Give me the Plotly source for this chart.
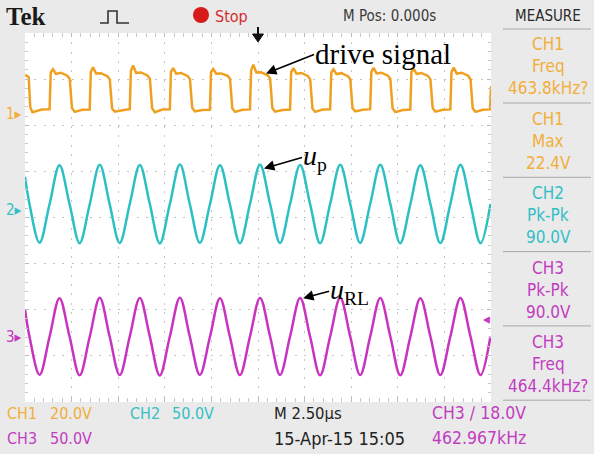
import plotly.graph_objects as go

# ---------------- data read from the screen ----------------
# horizontal: 2.50 us/div, M Pos 0.000 s  -> time in microseconds
# CH1 (drive signal), 20.0 V/div
ch1_time_us = [-12.50, -12.30, -12.22, -12.10, -11.60,
               -11.18, -11.12, -11.00, -10.84, -10.58, -10.23, -10.10, -9.98, -9.83, -9.43,
               -9.03, -8.97, -8.85, -8.69, -8.43, -8.08, -7.95, -7.83, -7.68, -7.28,
               -6.88, -6.82, -6.70, -6.54, -6.28, -5.93, -5.80, -5.68, -5.53, -5.13,
               -4.73, -4.67, -4.55, -4.39, -4.13, -3.78, -3.65, -3.53, -3.38, -2.98,
               -2.58, -2.52, -2.40, -2.24, -1.98, -1.63, -1.50, -1.38, -1.23, -0.83,
               -0.43, -0.37, -0.25, -0.09, 0.17, 0.52, 0.65, 0.77, 0.92, 1.32,
               1.72, 1.78, 1.90, 2.06, 2.32, 2.67, 2.80, 2.92, 3.07, 3.47,
               3.87, 3.93, 4.05, 4.21, 4.47, 4.82, 4.95, 5.07, 5.22, 5.62,
               6.02, 6.08, 6.20, 6.36, 6.62, 6.97, 7.10, 7.22, 7.37, 7.77,
               8.17, 8.23, 8.35, 8.51, 8.77, 9.12, 9.25, 9.37, 9.52, 9.92,
               10.32, 10.38, 10.50, 10.66, 10.92, 11.27, 11.40, 11.52, 11.67, 12.07,
               12.45, 12.50]
ch1_volts = [17.0, 16.0, 3.0, 0.8, 1.9,
             2.0, 18.0, 19.4, 17.4, 17.9, 16.6, 15.2, 2.6, 0.9, 1.8,
             1.9, 18.2, 20.2, 17.6, 17.7, 16.4, 15.0, 2.4, 1.0, 1.6,
             2.1, 18.6, 21.0, 17.8, 18.0, 16.7, 15.3, 2.5, 0.8, 1.9,
             2.0, 18.3, 19.9, 17.5, 17.8, 16.5, 15.1, 2.7, 1.1, 1.7,
             1.8, 18.1, 19.5, 17.5, 17.6, 16.6, 15.2, 2.5, 0.9, 1.8,
             2.0, 18.8, 21.4, 18.0, 18.1, 16.8, 15.4, 2.6, 1.0, 1.7,
             1.9, 18.2, 19.9, 17.5, 17.8, 16.5, 15.0, 2.4, 0.9, 1.9,
             2.0, 18.0, 19.4, 17.3, 17.7, 16.4, 15.1, 2.6, 1.1, 1.8,
             2.1, 18.3, 20.0, 17.6, 17.9, 16.6, 15.2, 2.5, 0.8, 1.7,
             1.9, 18.1, 19.6, 17.4, 17.8, 16.5, 15.0, 2.6, 1.0, 1.8,
             2.0, 18.2, 20.1, 17.5, 17.9, 16.6, 15.1, 2.5, 0.9, 1.8,
             2.0, 12.0]

# CH2 (u_p) and CH3 (u_RL), 50.0 V/div, sampled at peaks / troughs / crossings
sine_time_us = [-12.50, -12.26, -11.72, -11.18, -10.65, -10.11, -9.57, -9.03, -8.49, -7.96,
                -7.42, -6.88, -6.34, -5.81, -5.27, -4.73, -4.19, -3.66, -3.12, -2.58,
                -2.04, -1.51, -0.97, -0.43, 0.11, 0.65, 1.18, 1.72, 2.26, 2.80,
                3.33, 3.87, 4.41, 4.95, 5.48, 6.02, 6.56, 7.10, 7.63, 8.17,
                8.71, 9.25, 9.78, 10.32, 10.86, 11.40, 11.94, 12.47]
ch2_volts = [36.0, 6.5,
             -35.5, 6.5, 48.5, 6.5,
             -36.0, 6.0, 49.0, 6.5,
             -35.8, 6.5, 48.8, 7.0,
             -36.2, 6.5, 49.2, 6.5,
             -35.6, 6.0, 48.6, 6.5,
             -36.0, 6.5, 49.0, 6.5,
             -35.8, 6.5, 48.7, 6.0,
             -36.1, 6.5, 49.1, 6.5,
             -35.7, 6.5, 48.9, 6.5,
             -36.0, 6.0, 48.6, 6.5,
             -35.9, 6.5, 49.0, 6.5,
             -36.0, 6.5]
ch3_volts = [30.0, 0.5,
             -41.0, 0.5, 42.0, 0.5,
             -41.5, 0.0, 42.5, 0.5,
             -41.2, 0.5, 42.3, 1.0,
             -41.6, 0.5, 42.6, 0.5,
             -41.0, 0.0, 42.1, 0.5,
             -41.3, 0.5, 42.4, 0.5,
             -41.1, 0.5, 42.2, 0.0,
             -41.5, 0.5, 42.5, 0.5,
             -41.2, 0.5, 42.3, 0.5,
             -41.4, 0.0, 42.0, 0.5,
             -41.2, 0.5, 42.4, 0.5,
             -41.3, 0.5]

# channel settings: volts/div and ground-marker position (divisions above centre)
ch_volts_per_div = [20.0, 50.0, 50.0]
ch_offset_div = [2.244, 0.163, -2.591]

measure_channel = ["CH1", "CH1", "CH2", "CH3", "CH3"]
measure_kind = ["Freq", "Max", "Pk-Pk", "Pk-Pk", "Freq"]
measure_value = ["463.8kHz?", "22.4V", "90.0V", "90.0V", "464.4kHz?"]

# ---------------- styling ----------------
W, H = 594, 454
L, R, T, B = 25, 491, 33, 402          # graticule box in pixels
ORANGE = "#F0A020"
CYAN = "#2CC0C2"
MAGENTA = "#C833C0"
T_ORANGE = "#F2AE3A"
T_CYAN = "#33BFC6"
T_MAGENTA = "#C23CC2"
TEKFONT = "DejaVu Sans Condensed, Liberation Sans Narrow, Arial Narrow, sans-serif"
SERIF = "Liberation Serif, Times New Roman, serif"
GRID = "#C4C4C4"


def px(x):
    return (x - L) / (R - L)


def py(y):
    return (B - y) / (B - T)


def ch_range(i):
    s, o = ch_volts_per_div[i], ch_offset_div[i]
    return [(-4 - o) * s, (4 - o) * s]


fig = go.Figure()
# base subplot (graticule in divisions)
fig.add_trace(go.Scatter(x=[None], y=[None], xaxis="x", yaxis="y",
                         showlegend=False, hoverinfo="skip"))
fig.add_trace(go.Scatter(x=ch1_time_us, y=ch1_volts, yaxis="y2", mode="lines",
                         line=dict(color=ORANGE, width=2.5), showlegend=False))
fig.add_trace(go.Scatter(x=sine_time_us, y=ch2_volts, yaxis="y3", mode="lines",
                         line=dict(color=CYAN, width=2.5, shape="spline", smoothing=1.0),
                         showlegend=False))
fig.add_trace(go.Scatter(x=sine_time_us, y=ch3_volts, yaxis="y4", mode="lines",
                         line=dict(color=MAGENTA, width=2.5, shape="spline", smoothing=1.0),
                         showlegend=False))

grid_axis = dict(showgrid=True, gridcolor=GRID, griddash="2px,7.3px", gridwidth=1,
                 zeroline=False, showticklabels=False, showline=False,
                 ticks="inside", ticklen=4, tickcolor="#BDBDBD", mirror="allticks",
                 fixedrange=True)

fig.update_layout(
    width=W, height=H, autosize=False,
    margin=dict(l=L, r=W - R, t=T, b=H - B, pad=0),
    paper_bgcolor="#EAEAEA", plot_bgcolor="#FFFFFF",
    xaxis=dict(range=[-12.5, 12.5], tick0=0, dtick=2.5,
               minor=dict(ticks="inside", ticklen=3, dtick=0.5,
                          tickcolor="#C8C8C8", showgrid=False), **grid_axis),
    yaxis=dict(range=[-4, 4], tick0=0, dtick=1,
               minor=dict(ticks="inside", ticklen=3, dtick=0.2,
                          tickcolor="#C8C8C8", showgrid=False), **grid_axis),
    yaxis2=dict(range=ch_range(0), overlaying="y", visible=False, fixedrange=True),
    yaxis3=dict(range=ch_range(1), overlaying="y", visible=False, fixedrange=True),
    yaxis4=dict(range=ch_range(2), overlaying="y", visible=False, fixedrange=True),
    showlegend=False,
)

ann = []
shapes = []


def text(x, y, s, color="#222", size=16, family=TEKFONT, xanchor="left"):
    ann.append(dict(x=px(x), y=py(y), xref="paper", yref="paper", text=s,
                    showarrow=False, xanchor=xanchor, yanchor="middle",
                    font=dict(family=family, size=size, color=color)))


# ---- top bar ----
text(4, 16, "<b>Tek</b>", color="#1A1A1A", size=25, family=SERIF)
shapes.append(dict(type="path", xref="paper", yref="paper",
                   path="M %f,%f L %f,%f L %f,%f L %f,%f L %f,%f L %f,%f" % (
                       px(100), py(23), px(108), py(23), px(108), py(11),
                       px(117), py(11), px(117), py(23), px(129), py(23)),
                   line=dict(color="#333", width=1.6)))
shapes.append(dict(type="circle", xref="paper", yref="paper",
                   x0=px(193), x1=px(209), y0=py(23), y1=py(7),
                   fillcolor="#D71A1A", line=dict(color="#D71A1A", width=0)))
text(213, 16, "Stop", color="#D42A2A", size=16)
text(389, 16, "M Pos: 0.000s", color="#3A3A3A", size=15, xanchor="center")
text(548, 16, "MEASURE", color="#2A2A2A", size=15, xanchor="center")
shapes.append(dict(type="line", xref="paper", yref="paper",
                   x0=px(503), x1=px(591), y0=py(29), y1=py(29),
                   line=dict(color="#A8A8A8", width=1)))

# trigger position marker (down arrow at top of graticule)
shapes.append(dict(type="line", xref="paper", yref="paper",
                   x0=px(258), x1=px(258), y0=py(27), y1=py(35),
                   line=dict(color="#111", width=2)))
shapes.append(dict(type="path", xref="paper", yref="paper",
                   path="M %f,%f L %f,%f L %f,%f Z" % (
                       px(252.5), py(34), px(263.5), py(34), px(258), py(42)),
                   fillcolor="#111", line=dict(color="#111", width=1)))

# ---- measurement panel ----
box_colors = [T_ORANGE, T_ORANGE, T_CYAN, T_MAGENTA, T_MAGENTA]
for i in range(len(measure_channel)):
    y0 = 44 + 74.5 * i
    c = box_colors[i]
    text(548, y0, measure_channel[i], color=c, size=17, xanchor="center")
    text(548, y0 + 22, measure_kind[i], color=c, size=17, xanchor="center")
    text(548, y0 + 44, measure_value[i], color=c, size=17, xanchor="center")
    ys = 103 + 74.3 * i
    shapes.append(dict(type="line", xref="paper", yref="paper",
                       x0=px(503), x1=px(591), y0=py(ys), y1=py(ys),
                       line=dict(color="#A8A8A8", width=1)))

# ---- bottom status bar ----
text(5, 413, "CH1", color=T_ORANGE)
text(48, 413, "20.0V", color=T_ORANGE)
text(128, 413, "CH2", color=T_CYAN)
text(170, 413, "50.0V", color=T_CYAN)
text(272, 413, "M 2.50µs", color="#222", size=16.5)
text(430, 413, "CH3 ∕ 18.0V", color=T_MAGENTA, size=17.5)
text(5, 438, "CH3", color=T_MAGENTA)
text(48, 438, "50.0V", color=T_MAGENTA)
text(272, 438, "15-Apr-15 15:05", color="#222", size=18)
text(430, 438, "462.967kHz", color=T_MAGENTA, size=17.5)

# ---- channel ground markers & trigger level ----
text(4, 114, "1▸", color=T_ORANGE, size=15)
text(4, 210, "2▸", color=T_CYAN, size=15)
text(4, 337, "3▸", color=T_MAGENTA, size=15)
text(492, 319, "◂", color=MAGENTA, size=15, xanchor="right")

# ---- labels with arrows (arrow tail at the left-middle of each label) ----
def label(s, tip_x, tip_y, yref, ax, ay, size):
    ann.append(dict(x=tip_x, y=tip_y, xref="x", yref=yref, ax=ax, ay=ay,
                    text=s, showarrow=True, arrowhead=2, arrowsize=1.3,
                    arrowwidth=1.6, arrowcolor="#000", xanchor="left",
                    yanchor="middle", borderpad=0,
                    font=dict(family=SERIF, size=size, color="#000")))


label("drive signal", 0.43, 17.6, "y2", 48, -19, 29)
label("<i>u</i><sub>p</sub>", 0.32, 45.0, "y3", 38, -11, 28)
label("<i>u</i><sub>RL</sub>", 2.42, 42.0, "y4", 26, -7, 28)

fig.update_layout(annotations=ann, shapes=shapes)
fig.write_html("out.html")
